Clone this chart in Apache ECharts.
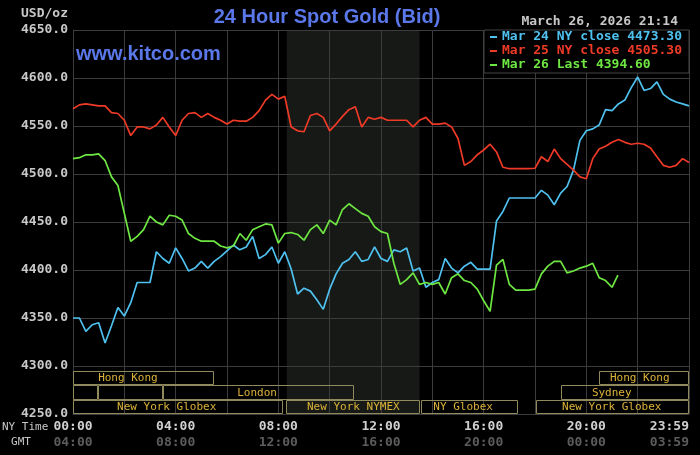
<!DOCTYPE html>
<html><head><meta charset="utf-8">
<script src="https://cdn.jsdelivr.net/npm/echarts@6/dist/echarts.min.js"></script>
<style>html,body{margin:0;padding:0;background:#000;}#c{width:700px;height:455px;}</style>
</head><body><div id="c"></div>
<script>
// ---- data (hours of the NY day, sampled every 15 min) ----
const hours = [];
for (let i = 0; i <= 96; i++) hours.push(i / 4);

const mar24 = [
4350,4350,4336,4343, 4345,4324,4342,4361, 4352,4366,4387,4387, 4387,4419,4412,4407,
4423,4412,4399,4402, 4409,4402,4409,4414, 4420,4426,4421,4424, 4435,4412,4416,4424,
4407,4419,4401,4375, 4381,4378,4369,4359, 4380,4396,4407,4411, 4419,4409,4411,4424,
4412,4409,4421,4419, 4423,4399,4402,4382, 4387,4390,4412,4402, 4397,4404,4408,4401,
4401,4401,4451,4461, 4475,4475,4475,4475, 4475,4483,4478,4468, 4480,4487,4504,4535,
4545,4547,4551,4567, 4566,4573,4577,4590, 4601,4587,4589,4596, 4583,4578,4575,4573,
4571];
const mar25 = [
4568,4572,4573,4572, 4571,4571,4564,4563, 4556,4540,4549,4549, 4547,4551,4559,4549,
4540,4556,4563,4564, 4559,4563,4559,4556, 4552,4556,4555,4555, 4559,4566,4577,4583,
4578,4581,4549,4545, 4544,4561,4563,4559, 4545,4552,4560,4567, 4570,4549,4559,4557,
4559,4556,4556,4556, 4556,4549,4556,4559, 4552,4552,4553,4549, 4537,4509,4513,4520,
4525,4531,4523,4507, 4505.5,4505.5,4505.5,4505.5, 4506,4518,4513,4526, 4516,4510,4504,4497,
4495,4516,4526,4529, 4533,4536,4533,4531, 4532,4531,4527,4518, 4509,4507,4509,4516,
4512];
const mar26 = [
4516,4517,4520,4520, 4521,4514,4497,4488, 4459,4430,4435,4442, 4456,4450,4447,4457,
4456,4452,4438,4433, 4430,4430,4430,4425, 4423,4425,4438,4431, 4442,4445,4448,4447,
4428,4438,4439,4437, 4431,4442,4447,4438, 4452,4447,4463,4469, 4464,4459,4456,4445,
4440,4438,4407,4385, 4390,4397,4385,4387, 4385,4387,4375,4392, 4396,4389,4387,4380,
4368,4357,4405,4411, 4385,4379,4379,4379, 4380,4396,4404,4409, 4409,4397,4399,4402,
4404,4407,4392,4389, 4382];
const mar26LastTime = 21.23;
const mar26LastValue = 4394.6;

const seriesNames = ['Mar 24 NY close 4473.30', 'Mar 25 NY close 4505.30', 'Mar 26 Last 4394.60'];
const nyTickAt = [0, 4, 8, 12, 16, 20, 24];
const nyTickLabels = ['00:00', '04:00', '08:00', '12:00', '16:00', '20:00', '23:59'];
const gmtTickLabels = ['04:00', '08:00', '12:00', '16:00', '20:00', '00:00', '03:59'];
const nymexHours = [8.33, 13.5];

// trading-session boxes
const sessionStart = [0, 20.5, 0, 0.96, 3.5, 19.0, 0, 8.3, 13.55, 18.04];
const sessionEnd   = [5.5, 24, 0.96, 3.5, 10.96, 24, 8.17, 13.5, 17.35, 24];
const sessionRow   = [0, 0, 1, 1, 1, 1, 2, 2, 2, 2];
const sessionName  = ['Hong Kong', 'Hong Kong', '', '', 'London', 'Sydney', 'New York Globex', 'New York NYMEX', 'NY Globex', 'New York Globex'];
const sessionLabelAt = [2.14, 22.08, 0, 0, 7.17, 20.99, 3.65, 10.92, 15.2, 20.99];
const rowTop = [4295, 4280, 4265];
const rowBottom = [4280, 4265, 4250];

// ---- build ----
const pair = (vals) => vals.map((v, i) => [hours[i], v]);
const greenData = pair(mar26);
greenData.push([mar26LastTime, mar26LastValue]);

const colors = ['#4fc1ef', '#ee3a27', '#6ee743'];
const mono = '"DejaVu Sans Mono", monospace';
const gridColor = '#3c3c3c';

const sessionData = sessionStart.map((s, i) => [s, sessionEnd[i], sessionRow[i], sessionLabelAt[i]]);

const chart = echarts.init(document.getElementById('c'), null, {renderer: 'canvas'});
chart.setOption({
  backgroundColor: '#000',
  animation: false,
  grid: {left: 73, right: 11, top: 30, bottom: 41, containLabel: false},
  xAxis: {
    type: 'value', min: 0, max: 24, interval: 2, z: 2,
    axisLine: {show: true, lineStyle: {color: gridColor}},
    axisTick: {show: false},
    splitLine: {show: true, lineStyle: {color: gridColor, width: 1}},
    axisLabel: {
      margin: 5, showMinLabel: true, showMaxLabel: true, alignMaxLabel: 'right',
      formatter: (v) => {
        const i = nyTickAt.indexOf(v);
        if (i < 0) return '';
        return '{a|' + nyTickLabels[i] + '}\n{b|' + gmtTickLabels[i] + '}';
      },
      rich: {
        a: {fontFamily: mono, fontSize: 13, fontWeight: 'bold', color: '#d0d0d0', lineHeight: 16},
        b: {fontFamily: mono, fontSize: 13, fontWeight: 'bold', color: '#5c5c5c', lineHeight: 16}
      }
    }
  },
  yAxis: {
    type: 'value', min: 4250, max: 4650, interval: 50, z: 2,
    axisLine: {show: true, lineStyle: {color: gridColor}},
    axisTick: {show: false},
    splitLine: {show: true, lineStyle: {color: gridColor, width: 1}},
    axisLabel: {
      margin: 5, formatter: (v) => v.toFixed(1),
      fontFamily: mono, fontSize: 13, fontWeight: 'bold', color: '#c8c8c8'
    }
  },
  legend: {
    orient: 'vertical', right: 11, top: 30, icon: 'rect', itemWidth: 7, itemHeight: 2, itemGap: 0,
    padding: [0, 7, 1, 6], backgroundColor: '#000', borderColor: '#444', borderWidth: 1,
    selectedMode: false, z: 10,
    textStyle: {fontFamily: mono, fontSize: 13, fontWeight: 'bold', lineHeight: 14},
    data: seriesNames.map((n, i) => ({name: n, textStyle: {color: colors[i]}, itemStyle: {color: colors[i]}}))
  },
  graphic: [
    {type: 'text', x: 327, y: 17, z: 20, style: {text: '24 Hour Spot Gold (Bid)', fill: '#5b78ea', font: 'bold 20px "Liberation Sans", Arial, sans-serif', align: 'center', verticalAlign: 'middle'}},
    {type: 'text', x: 76, y: 54, z: 20, style: {text: 'www.kitco.com', fill: '#5b78ea', font: 'bold 20px "Liberation Sans", Arial, sans-serif', align: 'left', verticalAlign: 'middle'}},
    {type: 'text', x: 68, y: 14, z: 20, style: {text: 'USD/oz', fill: '#c8c8c8', font: 'bold 13px ' + mono, align: 'right', verticalAlign: 'middle'}},
    {type: 'text', x: 678, y: 22, z: 20, style: {text: 'March 26, 2026 21:14', fill: '#c8c8c8', font: 'bold 13px ' + mono, align: 'right', verticalAlign: 'middle'}},
    {type: 'text', x: 2, y: 427, z: 20, style: {text: 'NY Time', fill: '#c8c8c8', font: '11px ' + mono, align: 'left', verticalAlign: 'middle'}},
    {type: 'text', x: 21, y: 442, z: 20, style: {text: 'GMT', fill: '#c8c8c8', font: '11px ' + mono, align: 'center', verticalAlign: 'middle'}}
  ],
  series: [
    {
      type: 'line', name: '_shade', data: [], z: 1, silent: true,
      markArea: {silent: true, itemStyle: {color: '#161916'}, data: [[{xAxis: nymexHours[0]}, {xAxis: nymexHours[1]}]]}
    },
    {
      type: 'custom', name: '_sessions', z: 3, silent: true, clip: false,
      data: sessionData,
      renderItem: (params, api) => {
        const i = params.dataIndex;
        const r = api.value(2);
        const p0 = api.coord([api.value(0), rowTop[r]]);
        const p1 = api.coord([api.value(1), rowBottom[r]]);
        const x0 = Math.round(p0[0]) + 0.5, y0 = Math.round(p0[1]) + 0.5;
        const x1 = Math.round(p1[0]) - 0.5, y1 = Math.round(p1[1]) - 0.5;
        const children = [{type: 'rect', shape: {x: x0, y: y0, width: x1 - x0, height: y1 - y0},
          style: {fill: null, stroke: '#8f895c', lineWidth: 1}}];
        if (sessionName[i]) {
          const lx = api.coord([api.value(3), 4250])[0];
          children.push({type: 'text', x: lx, y: (y0 + y1) / 2 + 0.5,
            style: {text: sessionName[i], fill: '#dcb23a', font: '11px ' + mono, align: 'center', verticalAlign: 'middle'}});
        }
        return {type: 'group', children};
      }
    },
    {type: 'line', name: seriesNames[0], data: pair(mar24), showSymbol: false, z: 4, lineStyle: {color: colors[0], width: 1.7}, itemStyle: {color: colors[0]}},
    {type: 'line', name: seriesNames[1], data: pair(mar25), showSymbol: false, z: 4, lineStyle: {color: colors[1], width: 1.7}, itemStyle: {color: colors[1]}},
    {type: 'line', name: seriesNames[2], data: greenData, showSymbol: false, z: 4, lineStyle: {color: colors[2], width: 1.7}, itemStyle: {color: colors[2]}}
  ]
});
</script>
</body></html>
